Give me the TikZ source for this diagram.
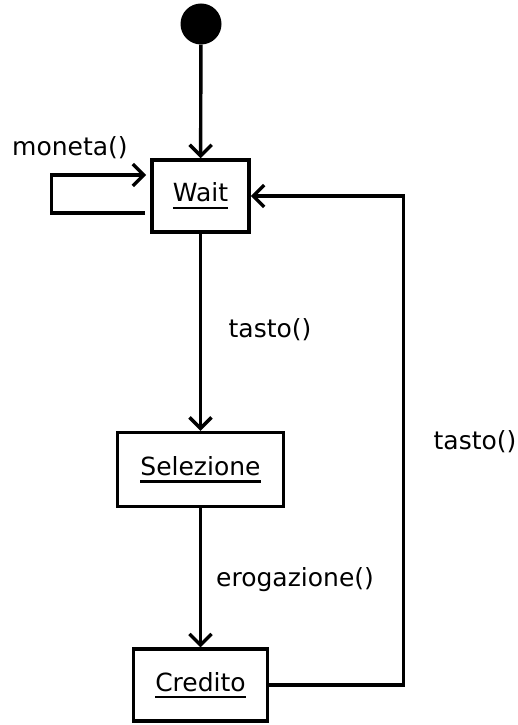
\documentclass[tikz,border=0pt]{standalone}
\usepackage{fontspec}
\setmainfont{DejaVu Sans}
\usetikzlibrary{positioning}
\usetikzlibrary{arrows.meta}
% state names are underlined with a thick rule
\newcommand{\uname}[1]{\setbox0\hbox{#1}\rlap{\usebox0}\raisebox{-7pt}{\rule{\wd0}{2.2pt}}}

\begin{document}
\begin{tikzpicture}[x=1pt,y=1pt,
    state/.style={draw, line width=3.6pt, inner sep=0pt, minimum height=72pt, font=\fontsize{25}{30}\selectfont},
    initial/.style={circle, fill=black, minimum size=41pt, inner sep=0pt},
    trans/.style={line width=3.4pt, -{Straight Barb[length=11pt,width=22pt]}},
    lbl/.style={inner sep=0pt, font=\fontsize{25}{30}\selectfont},
]
\useasboundingbox (0,0) rectangle (517,725);
% states
\node[initial] (start) at (201,701) {};
\node[state, minimum width=97pt] (wait) at (200.5,529) {\uname{Wait}};
\node[state, minimum width=166pt, minimum height=74pt, below=197pt of wait] (selezione) {\uname{Selezione}};
\node[state, minimum width=134pt, below=139pt of selezione] (credito) {\uname{Credito}};
% transitions
\draw[trans] (start) -- (wait);
\draw[trans] (wait) -- (selezione);
\draw[trans] (selezione) -- (credito);
\draw[trans] ([xshift=-5pt,yshift=-17pt]wait.west) -- ++(-94pt,0) |- ([xshift=-4pt,yshift=21pt]wait.west);
\draw[trans] (credito.east) -- ++(134pt,0) |- (wait.east);
% events
\node[lbl] (moneta) at (70,577) {moneta()};
\node[lbl] (tastoA) at (270,395) {tasto()};
\node[lbl] (erogazione) at (295,145) {erogazione()};
\node[lbl] (tastoB) at (475,283) {tasto()};
\end{tikzpicture}
\end{document}
